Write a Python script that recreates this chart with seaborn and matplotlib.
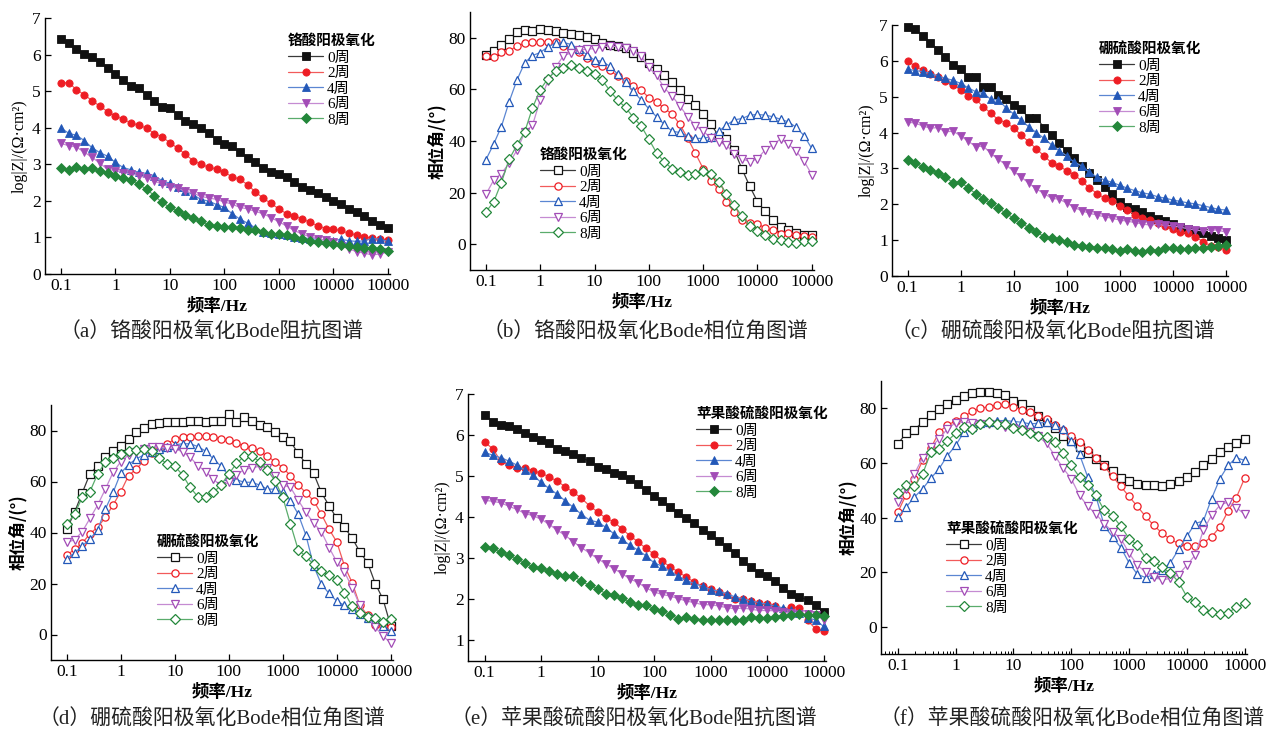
import numpy as np
import pandas as pd
import matplotlib
matplotlib.use("Agg")
import matplotlib.pyplot as plt
import seaborn as sns
from matplotlib.ticker import LogLocator, NullFormatter, FixedLocator

# ---------------- data ----------------
FREQ = [0.1, 0.139, 0.193, 0.268, 0.373, 0.518, 0.72, 1, 1.39, 1.93, 2.68, 3.73, 5.18, 7.2,
        10, 13.9, 19.3, 26.8, 37.3, 51.8, 72, 100, 139, 193, 268, 373, 518, 720,
        1000, 1390, 1930, 2680, 3730, 5180, 7200, 10000, 13900, 19300, 26800, 37300,
        51800, 72000, 100000]
WEEKS = ["0周", "2周", "4周", "6周", "8周"]
XTICKS = [0.1, 1, 10, 100, 1000, 10000, 100000]
XTICK_LABELS = ["0.1", "1", "10", "100", "1000", "10000", "10000"]

# (a) chromic acid anodizing, log|Z|
A_W0 = [6.42,6.31,6.16,6.02,5.93,5.79,5.63,5.46,5.30,5.15,5.08,4.89,4.73,4.56,4.54,4.35,4.18,4.09,4.00,3.85,3.67,3.56,3.49,3.34,3.18,3.05,2.89,2.79,2.73,2.64,2.51,2.39,2.30,2.21,2.10,2.00,1.91,1.78,1.69,1.59,1.45,1.35,1.27]
A_W2 = [5.23,5.23,5.04,4.90,4.74,4.59,4.44,4.32,4.23,4.13,4.07,3.99,3.84,3.75,3.59,3.44,3.27,3.10,3.00,2.92,2.87,2.78,2.66,2.59,2.44,2.24,2.07,1.93,1.78,1.65,1.58,1.51,1.41,1.32,1.24,1.22,1.19,1.11,1.07,1.02,0.98,0.96,0.93]
A_W4 = [3.99,3.85,3.79,3.65,3.45,3.32,3.22,3.05,2.91,2.85,2.78,2.75,2.69,2.55,2.48,2.37,2.28,2.16,2.04,1.99,1.90,1.82,1.65,1.50,1.39,1.26,1.15,1.11,1.09,1.06,1.02,0.99,0.97,0.95,0.93,0.91,0.95,0.91,0.89,0.91,0.97,0.95,0.89]
A_W6 = [3.57,3.51,3.47,3.33,3.19,3.03,2.86,2.83,2.77,2.74,2.69,2.63,2.55,2.45,2.39,2.34,2.26,2.21,2.12,2.08,2.04,1.97,1.91,1.82,1.78,1.71,1.65,1.54,1.43,1.31,1.19,1.09,1.02,0.97,0.92,0.88,0.77,0.69,0.61,0.57,0.52,0.55,0.60]
A_W8 = [2.89,2.85,2.92,2.86,2.89,2.81,2.76,2.68,2.62,2.56,2.45,2.32,2.14,1.96,1.82,1.72,1.62,1.53,1.44,1.34,1.31,1.28,1.29,1.25,1.20,1.19,1.14,1.10,1.09,1.06,1.00,0.96,0.91,0.88,0.85,0.81,0.78,0.77,0.75,0.70,0.70,0.68,0.62]

# (b) chromic acid anodizing, phase angle
B_W0 = [73.5,74.9,77.4,79.6,82.2,82.9,82.6,83.3,83.1,82.6,81.8,81.3,81.0,80.2,79.5,77.8,77.4,76.9,76.1,74.3,72.4,70.3,67.8,65.4,63.0,59.7,56.2,54.1,50.6,46.6,41.9,40.6,36.4,29.2,22.5,16.5,12.7,9.3,6.6,5.4,4.4,3.7,3.4]
B_W2 = [72.9,72.5,74.4,74.8,76.9,77.8,78.2,78.3,78.4,78.2,76.9,75.8,74.5,72.1,70.4,68.9,67.4,65.1,63.4,61.4,59.8,56.8,55.2,52.6,50.5,46.4,41.1,35.3,29.3,24.4,21.4,16.3,12.4,9.3,8.4,7.9,6.3,5.4,4.0,4.4,3.5,3.1,2.8]
B_W4 = [32.7,38.8,45.6,55.2,63.6,70.3,73.1,74.3,76.5,77.9,78.2,77.4,75.6,73.5,71.3,70.9,68.9,65.9,62.7,59.3,55.9,52.5,49.4,46.4,43.8,43.3,41.9,41.0,41.0,41.7,43.8,46.1,48.2,48.7,50.0,50.3,50.0,49.4,48.4,47.4,45.3,42.1,37.1]
B_W6 = [19.3,24.8,27.4,31.4,36.4,43.3,46.1,55.8,63.2,68.7,73.0,74.2,75.2,75.6,75.8,76.5,76.9,76.5,76.1,74.9,73.0,68.5,65.4,60.6,57.4,53.6,49.4,46.0,43.9,41.0,39.7,38.4,35.1,33.2,32.0,33.1,36.6,38.6,40.8,38.8,36.0,32.2,27.0]
B_W8 = [12.5,16.4,23.9,32.9,38.4,43.5,52.8,59.9,64.2,67.1,68.3,69.4,68.3,67.2,65.9,63.6,59.4,55.8,53.0,49.1,45.9,40.7,35.4,31.9,29.3,27.9,27.0,27.4,28.3,27.1,24.2,19.6,15.1,10.9,7.2,5.2,3.5,2.2,1.8,1.0,0.5,1.3,1.3]

# (c) boric-sulfuric acid anodizing, log|Z|
C_W0 = [6.95,6.89,6.70,6.51,6.30,6.10,5.88,5.76,5.56,5.56,5.26,5.28,5.05,4.93,4.77,4.65,4.41,4.42,4.14,3.92,3.70,3.49,3.28,3.07,2.88,2.67,2.47,2.29,2.05,1.93,1.86,1.78,1.68,1.59,1.53,1.45,1.38,1.32,1.25,1.19,1.12,1.05,1.00]
C_W2 = [5.99,5.86,5.74,5.63,5.54,5.43,5.33,5.19,5.03,4.93,4.72,4.54,4.35,4.28,4.13,3.93,3.74,3.55,3.35,3.16,3.08,2.93,2.83,2.64,2.46,2.30,2.17,2.10,1.96,1.84,1.71,1.63,1.56,1.47,1.40,1.30,1.24,1.19,1.09,0.96,0.84,0.80,0.73]
C_W4 = [5.77,5.73,5.70,5.65,5.58,5.51,5.46,5.37,5.25,5.14,5.09,4.93,4.91,4.69,4.52,4.35,4.16,4.00,3.84,3.66,3.50,3.35,3.17,3.07,2.89,2.76,2.68,2.61,2.53,2.45,2.38,2.32,2.28,2.21,2.17,2.12,2.08,2.04,2.01,1.96,1.91,1.86,1.84]
C_W6 = [4.30,4.26,4.19,4.12,4.14,4.02,4.04,3.91,3.76,3.61,3.62,3.42,3.25,3.10,2.92,2.76,2.59,2.43,2.30,2.17,2.14,2.04,1.91,1.82,1.75,1.70,1.65,1.61,1.56,1.53,1.49,1.45,1.42,1.44,1.41,1.40,1.36,1.32,1.28,1.26,1.28,1.28,1.22]
C_W8 = [3.23,3.16,3.05,2.97,2.88,2.76,2.60,2.63,2.45,2.30,2.15,2.04,1.89,1.75,1.61,1.47,1.35,1.23,1.10,1.05,1.00,0.94,0.87,0.84,0.82,0.79,0.77,0.75,0.71,0.76,0.71,0.68,0.72,0.69,0.77,0.79,0.76,0.76,0.77,0.79,0.80,0.84,0.86]

# (d) boric-sulfuric acid anodizing, phase angle
D_W0 = [41.3,47.9,55.5,63.0,66.2,69.5,72.1,74.1,76.5,79.3,81.0,82.6,83.0,83.3,83.3,83.5,83.7,83.7,83.5,83.7,83.9,86.3,83.5,85.4,83.7,82.2,81.2,79.3,77.4,75.7,71.0,67.0,63.2,55.7,50.5,45.5,42.0,37.8,32.4,28.1,19.9,13.8,3.3]
D_W2 = [31.1,33.4,35.8,39.5,42.1,45.9,50.8,56.0,62.3,64.9,68.1,71.0,72.8,74.8,76.5,77.4,77.6,77.8,77.9,77.4,76.7,76.1,75.1,73.8,73.2,71.9,69.9,67.8,65.4,62.3,58.8,55.5,52.5,47.2,41.3,36.3,26.9,20.3,11.4,7.5,3.9,3.3,3.0]
D_W4 = [29.8,31.9,34.8,37.4,41.0,49.2,55.7,63.3,66.6,68.9,70.4,71.7,72.8,73.4,74.4,74.8,74.8,73.7,71.9,68.9,66.0,62.3,60.7,59.7,59.7,58.6,57.0,57.0,55.7,52.5,47.2,39.0,26.9,19.7,16.1,13.1,11.4,10.1,7.9,6.6,5.6,3.3,1.3]
D_W6 = [36.1,37.1,40.3,45.5,50.8,57.0,63.6,67.8,70.4,71.7,72.8,73.4,73.4,73.2,72.8,71.7,69.5,66.2,63.9,61.0,58.1,59.7,62.6,64.7,65.3,66.0,65.2,62.3,58.6,57.7,52.7,47.9,43.7,40.3,34.1,28.5,24.5,18.4,11.4,6.6,2.9,-0.7,-3.3]
D_W8 = [43.3,47.2,53.8,56.0,63.0,67.5,69.1,70.8,71.9,72.5,72.8,72.1,69.1,66.9,66.0,62.6,57.7,54.0,53.8,55.7,58.6,63.0,67.1,69.9,69.9,67.8,64.5,60.3,53.8,43.3,33.2,30.6,27.5,24.9,23.2,21.4,16.4,11.1,8.3,7.0,6.6,4.9,6.2]

# (e) malic-sulfuric acid anodizing, log|Z|
E_W0 = [6.49,6.33,6.24,6.23,6.14,6.04,5.96,5.88,5.81,5.67,5.61,5.53,5.44,5.37,5.23,5.18,5.07,5.02,4.92,4.80,4.67,4.52,4.40,4.25,4.11,3.99,3.85,3.68,3.56,3.42,3.28,3.13,2.93,2.79,2.64,2.56,2.44,2.28,2.14,2.07,1.98,1.87,1.69]
E_W2 = [5.83,5.67,5.37,5.27,5.20,5.20,5.12,5.08,4.98,4.88,4.74,4.61,4.46,4.28,4.13,3.98,3.89,3.72,3.55,3.40,3.24,3.10,2.93,2.79,2.67,2.54,2.42,2.32,2.25,2.18,2.10,2.02,2.00,1.95,1.91,1.88,1.84,1.75,1.81,1.80,1.49,1.28,1.24]
E_W4 = [5.58,5.51,5.45,5.37,5.27,5.15,5.02,4.85,4.70,4.56,4.40,4.24,4.07,3.93,3.88,3.76,3.60,3.46,3.32,3.20,3.06,2.89,2.81,2.68,2.56,2.46,2.38,2.32,2.24,2.20,2.14,2.06,2.02,1.96,1.92,1.88,1.84,1.79,1.73,1.67,1.55,1.50,1.34]
E_W6 = [4.41,4.39,4.35,4.27,4.19,4.09,4.04,3.95,3.83,3.68,3.56,3.40,3.26,3.13,2.99,2.87,2.75,2.63,2.50,2.41,2.28,2.18,2.12,2.08,2.02,1.96,1.92,1.87,1.87,1.84,1.80,1.77,1.79,1.76,1.73,1.73,1.72,1.69,1.67,1.65,1.65,1.61,1.50]
E_W8 = [3.28,3.24,3.15,3.07,2.99,2.89,2.79,2.76,2.69,2.63,2.58,2.57,2.44,2.34,2.26,2.14,2.10,2.03,1.93,1.87,1.87,1.77,1.72,1.63,1.53,1.56,1.53,1.50,1.49,1.49,1.49,1.49,1.49,1.57,1.54,1.55,1.57,1.59,1.63,1.65,1.61,1.61,1.59]

# (f) malic-sulfuric acid anodizing, phase angle
F_W0 = [67.0,70.9,72.2,74.9,77.6,79.8,81.4,83.2,84.4,85.6,86.1,85.9,85.6,84.7,82.8,81.4,79.2,77.3,74.9,72.8,70.0,68.0,65.8,63.7,61.5,59.3,56.9,54.6,53.2,52.1,51.8,51.8,51.6,52.1,53.3,54.8,56.6,59.3,61.5,63.9,65.8,67.2,68.8]
F_W2 = [42.0,48.4,54.2,60.9,65.5,71.3,73.9,75.3,77.0,78.9,80.0,80.6,81.2,81.4,80.4,79.5,78.6,77.3,75.9,73.9,71.9,69.8,67.8,64.9,61.9,58.7,55.1,51.4,47.7,44.1,40.4,37.1,34.3,32.0,30.5,29.5,29.5,30.7,32.9,36.5,42.4,47.3,54.4]
F_W4 = [40.2,43.8,47.5,50.5,54.4,57.9,62.7,66.4,71.3,73.3,74.5,74.9,75.5,75.5,75.2,74.9,74.3,74.5,74.9,73.7,72.5,68.2,63.1,54.8,47.7,36.9,32.9,29.0,23.4,19.2,18.0,19.2,20.7,23.4,28.3,33.1,37.8,38.7,46.9,54.2,59.1,61.9,60.9]
F_W6 = [45.7,50.5,56.0,61.9,65.8,68.8,72.5,74.7,74.9,74.7,74.3,74.1,73.7,73.3,72.8,72.1,71.3,69.7,67.2,62.7,58.1,54.2,48.1,44.1,41.2,37.8,34.7,32.3,27.0,22.5,20.1,18.3,17.1,17.7,19.1,22.5,26.2,35.3,40.8,44.5,45.7,43.6,41.2]
F_W8 = [49.0,51.8,51.4,56.0,63.9,65.2,68.0,70.9,73.3,72.5,74.1,74.9,74.3,74.1,72.8,71.9,70.9,70.0,69.4,67.6,63.6,59.1,54.8,52.0,48.1,42.6,40.6,36.8,32.3,29.8,25.3,24.0,21.7,19.7,16.4,11.0,8.9,6.3,5.5,4.6,5.1,7.1,8.5]

CAPTIONS = ["（a）铬酸阳极氧化Bode阻抗图谱", "（b）铬酸阳极氧化Bode相位角图谱",
            "（c）硼硫酸阳极氧化Bode阻抗图谱", "（d）硼硫酸阳极氧化Bode相位角图谱",
            "（e）苹果酸硫酸阳极氧化Bode阻抗图谱", "（f）苹果酸硫酸阳极氧化Bode相位角图谱"]
LEGEND_TITLES = ["铬酸阳极氧化", "铬酸阳极氧化", "硼硫酸阳极氧化", "硼硫酸阳极氧化",
                 "苹果酸硫酸阳极氧化", "苹果酸硫酸阳极氧化"]

ALL_SERIES = [
    [A_W0, A_W2, A_W4, A_W6, A_W8],
    [B_W0, B_W2, B_W4, B_W6, B_W8],
    [C_W0, C_W2, C_W4, C_W6, C_W8],
    [D_W0, D_W2, D_W4, D_W6, D_W8],
    [E_W0, E_W2, E_W4, E_W6, E_W8],
    [F_W0, F_W2, F_W4, F_W6, F_W8],
]
for grp in ALL_SERIES:
    for s in grp:
        assert len(s) == len(FREQ), len(s)

# ---------------- style ----------------
sns.set_theme(style="ticks")
SERIF_CJK = ["Liberation Serif", "Noto Sans CJK SC", "DejaVu Sans"]
CJK = ["Noto Sans CJK SC", "Liberation Serif", "DejaVu Sans"]
plt.rcParams["font.family"] = SERIF_CJK
plt.rcParams["axes.edgecolor"] = "black"
plt.rcParams["axes.linewidth"] = 1.0
plt.rcParams["xtick.color"] = "black"
plt.rcParams["ytick.color"] = "black"
plt.rcParams["text.color"] = "black"
plt.rcParams["axes.labelcolor"] = "black"

MARKERS = ["s", "o", "^", "v", "D"]
MARK_COLORS = ["#111111", "#ee1d24", "#2358b8", "#a24cb6", "#23873a"]
LINE_COLORS = ["#3a3a3a", "#f25a5a", "#5b86d2", "#c58bd2", "#5aac6c"]

W, H = 1268, 733
fig = plt.figure(figsize=(W / 100, H / 100), dpi=100)

def fx(px):
    return px / W

def fy(py):
    return 1 - py / H

# axes boxes in pixels: left, top, right, bottom
BOXES = [(45, 18, 390, 274), (470, 12, 814, 270), (892, 25, 1228, 276),
         (51, 405, 393, 660), (468, 394, 826, 661), (881, 381, 1247, 654)]
LEG_POS = [(288, 33), (540, 147), (1099, 41), (157, 534), (696, 406), (946, 521)]
CAP_POS = [(212, 333), (645, 333), (1053, 333), (212, 720), (634, 720), (1072, 720)]
IS_PHASE = [False, True, False, True, False, True]

for i in range(6):
    l, t, r, b = BOXES[i]
    ax = fig.add_axes([fx(l), fy(b), fx(r - l), (b - t) / H])
    phase = IS_PHASE[i]
    rows = []
    for w, vals in zip(WEEKS, ALL_SERIES[i]):
        for f, v in zip(FREQ, vals):
            rows.append((f, v, w))
    df = pd.DataFrame(rows, columns=["freq", "val", "week"])
    for k, w in enumerate(WEEKS):
        sub = df[df["week"] == w]
        ms = 5.2 if MARKERS[k] != "D" else 4.6
        sns.lineplot(data=sub, x="freq", y="val", ax=ax, estimator=None, sort=False,
                     color=LINE_COLORS[k], linewidth=0.9, marker=MARKERS[k],
                     markersize=ms,
                     markerfacecolor=("white" if phase else MARK_COLORS[k]),
                     markeredgecolor=MARK_COLORS[k],
                     markeredgewidth=(0.9 if phase else 0.6),
                     clip_on=False, label=w)
    ax.set_xscale("log")
    ax.set_xlim(0.051, 1.1e5)
    ax.xaxis.set_major_locator(FixedLocator(XTICKS))
    ax.set_xticklabels(XTICK_LABELS)
    ax.xaxis.set_minor_locator(LogLocator(base=10, subs=np.arange(2, 10)))
    ax.xaxis.set_minor_formatter(NullFormatter())
    if phase:
        ax.set_ylim(-10, 90)
        ax.set_yticks([0, 20, 40, 60, 80])
        ax.set_ylabel("相位角/(°)", family=CJK, fontsize=12, fontweight="bold", labelpad=2)
    else:
        if i == 4:
            ax.set_ylim(0.5, 7)
            ax.set_yticks([1, 2, 3, 4, 5, 6, 7])
        else:
            ax.set_ylim(0, 7)
            ax.set_yticks([0, 1, 2, 3, 4, 5, 6, 7])
        ax.set_ylabel("log|Z|/(Ω·cm²)", family=SERIF_CJK, fontsize=11.5, labelpad=3)
    ax.set_xlabel("频率/Hz", family=SERIF_CJK, fontsize=12.5, fontweight="bold", labelpad=3)
    ax.tick_params(axis="both", which="major", direction="in", length=4, width=0.9,
                   labelsize=12.5, pad=3)
    ax.tick_params(axis="x", which="minor", direction="in", length=2.5, width=0.7)
    ax.tick_params(axis="y", which="minor", left=False)
    for lab in ax.get_xticklabels() + ax.get_yticklabels():
        lab.set_family(SERIF_CJK)
    sns.despine(ax=ax)
    ax.grid(False)

    lx, ly = LEG_POS[i]
    leg = ax.legend(loc="upper left", bbox_to_anchor=(fx(lx), fy(ly)),
                    bbox_transform=fig.transFigure, frameon=False,
                    title=LEGEND_TITLES[i],
                    title_fontproperties={"family": CJK, "size": 10.5, "weight": "bold"},
                    prop={"family": SERIF_CJK, "size": 11},
                    handlelength=2.3, handletextpad=0.25, labelspacing=0.12,
                    borderpad=0, borderaxespad=0, alignment="left")

    cx, cy = CAP_POS[i]
    fig.text(fx(cx), fy(cy), CAPTIONS[i], ha="center", va="center",
             fontsize=15, family=SERIF_CJK, color="#222222")

fig.savefig("out.png", dpi=100, facecolor="white")
